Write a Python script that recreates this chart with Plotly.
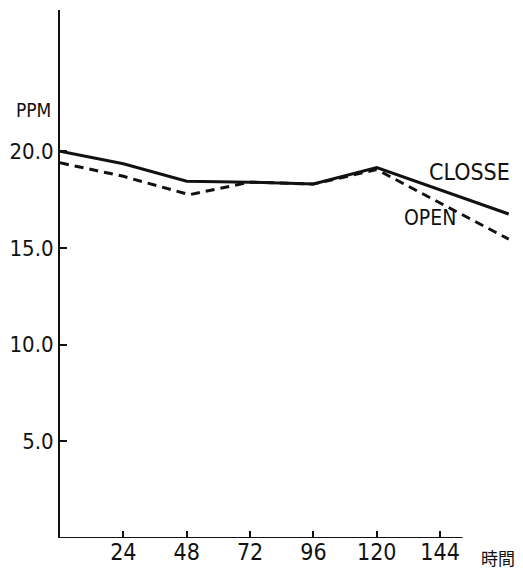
import plotly.graph_objects as go

# hours and PPM
hours = [0, 24, 48, 72, 96, 120, 170]
closse = [20.0, 19.35, 18.45, 18.4, 18.3, 19.15, 16.75]
open_hours = [0, 24, 49, 72, 96, 120, 170]
open_ppm = [19.4, 18.7, 17.75, 18.4, 18.3, 19.05, 15.45]

x_ticks = [24, 48, 72, 96, 120, 144]
y_ticks = [5, 10, 15, 20]
y_labels = ['5.0', '10.0', '15.0', '20.0']

font_name = 'DejaVu Sans Condensed'

fig = go.Figure()
fig.add_trace(go.Scatter(x=hours, y=closse, mode='lines', name='CLOSSE',
                         line=dict(color='#111111', width=3)))
fig.add_trace(go.Scatter(x=open_hours, y=open_ppm, mode='lines', name='OPEN',
                         line=dict(color='#111111', width=3, dash='9px,6px')))

# x axis line stops short of where the curves end
fig.add_shape(type='line', x0=0, x1=152.5, y0=0, y1=0, xref='x', yref='y',
              line=dict(color='#111111', width=2))

fig.add_annotation(x=155, y=18.9, text='CLOSSE', showarrow=False, xanchor='center',
                   font=dict(family=font_name, size=23, color='#111111'))
fig.add_annotation(x=140, y=16.55, text='OPEN', showarrow=False, xanchor='center',
                   font=dict(family=font_name, size=21, color='#111111'))
fig.add_annotation(x=-0.059, y=0.81, xref='paper', yref='paper', text='PPM',
                   showarrow=False, xanchor='center', yanchor='middle',
                   font=dict(family=font_name, size=19, color='#111111'))
fig.add_annotation(x=1.006, y=-0.036, xref='paper', yref='paper', text='時間',
                   showarrow=False, xanchor='right', yanchor='middle',
                   font=dict(family='Noto Sans CJK JP', size=17, color='#111111'))

# page body adds an 8px offset, so the figure is drawn 8px smaller
fig.update_layout(
    width=515,
    height=571,
    margin=dict(l=52, r=9, t=2, b=41),
    paper_bgcolor='white',
    plot_bgcolor='white',
    showlegend=False,
    font=dict(family=font_name, size=22, color='#111111'),
    xaxis=dict(range=[0, 172], tickvals=x_ticks, ticktext=[str(v) for v in x_ticks],
               ticks='inside', ticklen=7, tickwidth=2, tickcolor='#111111',
               showline=False, showgrid=False, zeroline=False, automargin=False,
               ticklabelstandoff=-2, tickfont=dict(size=23)),
    yaxis=dict(range=[0, 27.3], tickvals=y_ticks, ticktext=y_labels,
               ticks='inside', ticklen=7, tickwidth=2, tickcolor='#111111',
               showline=True, linecolor='#111111', linewidth=2, automargin=False,
               showgrid=False, zeroline=False, tickfont=dict(size=22)),
)

fig.write_html('out.html')
